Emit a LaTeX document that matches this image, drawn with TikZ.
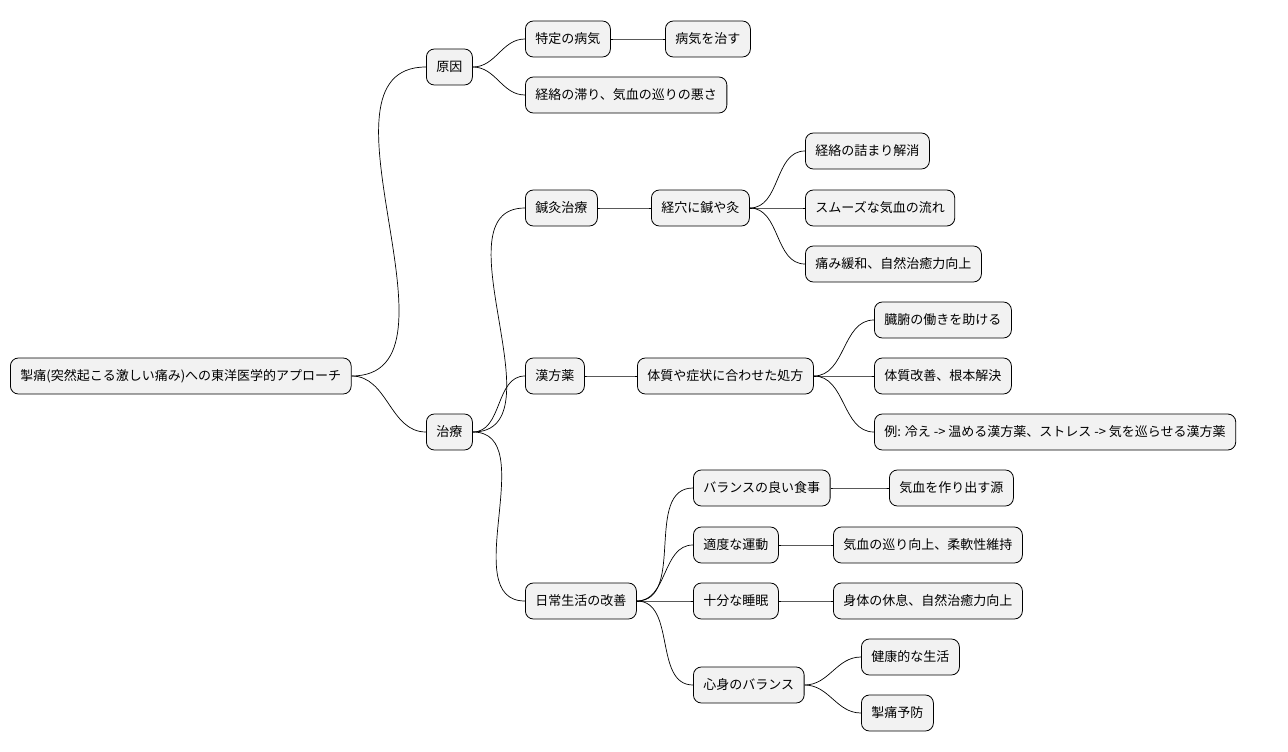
\documentclass[tikz,border=0pt]{standalone}
\usepackage{fontspec}
\setmainfont{Noto Sans CJK JP}
\begin{document}
\begin{tikzpicture}[x=1pt,y=-1pt,
  n/.style={draw=black,fill=black!5,rounded corners=8pt,line width=0.8pt,minimum height=36pt,inner xsep=10pt,anchor=west,font=\fontsize{13}{15}\selectfont},
  c/.style={line width=0.7pt}]
\useasboundingbox (0,0) rectangle (1288,752);
\node[n] (r) at (10,376) {掣痛(突然起こる激しい痛み)への東洋医学的アプローチ};
\node[n] (a) at (426,67) {原因};
\node[n] (a1) at (525,39) {特定の病気};
\node[n] (a11) at (665,39) {病気を治す};
\node[n] (a2) at (525,95) {経絡の滞り、気血の巡りの悪さ};
\node[n] (t) at (426,432) {治療};
\node[n] (b) at (525,208) {鍼灸治療};
\node[n] (b1) at (651,208) {経穴に鍼や灸};
\node[n] (b11) at (805,151) {経絡の詰まり解消};
\node[n] (b12) at (805,208) {スムーズな気血の流れ};
\node[n] (b13) at (805,264) {痛み緩和、自然治癒力向上};
\node[n] (k) at (525,376) {漢方薬};
\node[n] (k1) at (637,376) {体質や症状に合わせた処方};
\node[n] (k11) at (874,320) {臓腑の働きを助ける};
\node[n] (k12) at (874,376) {体質改善、根本解決};
\node[n] (k13) at (874,432) {例: 冷え -> 温める漢方薬、ストレス -> 気を巡らせる漢方薬};
\node[n] (d) at (525,601) {日常生活の改善};
\node[n] (d1) at (693,488) {バランスの良い食事};
\node[n] (d11) at (889,488) {気血を作り出す源};
\node[n] (d2) at (693,545) {適度な運動};
\node[n] (d21) at (833,545) {気血の巡り向上、柔軟性維持};
\node[n] (d3) at (693,601) {十分な睡眠};
\node[n] (d31) at (833,601) {身体の休息、自然治癒力向上};
\node[n] (d4) at (693,685) {心身のバランス};
\node[n] (d41) at (861,657) {健康的な生活};
\node[n] (d42) at (861,713) {掣痛予防};
\foreach \p/\q in {r/a,r/t,a/a1,a1/a11,a/a2,t/b,t/k,t/d,b/b1,b1/b11,b1/b12,b1/b13,k/k1,k1/k11,k1/k12,k1/k13,d/d1,d/d2,d/d3,d/d4,d1/d11,d2/d21,d3/d31,d4/d41,d4/d42}
  \draw[c] (\p.east) to[out=0,in=180] (\q.west);
\end{tikzpicture}
\end{document}
